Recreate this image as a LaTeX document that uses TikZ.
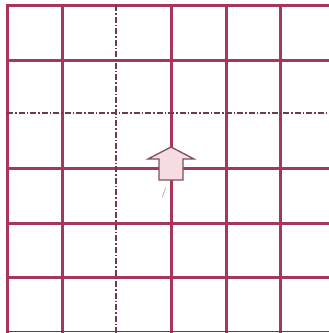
\documentclass[tikz,border=0pt]{standalone}
\usepackage{tikz}
\usetikzlibrary{positioning}
\definecolor{gridred}{HTML}{A8355A}
\definecolor{axisink}{HTML}{6E3B4C}
\definecolor{arrowfill}{HTML}{F7DDE2}

\begin{document}
\begin{tikzpicture}[
  x=1pt, y=-1pt,
  gridline/.style={draw=gridred, line width=3pt},
  axisline/.style={draw=axisink, line width=1.1pt, dash pattern=on 6pt off 2pt on 1.5pt off 2pt},
  uparrow/.style={draw=axisink!90, fill=arrowfill, line width=1.3pt, line join=miter},
]
\useasboundingbox (0,0) rectangle (329,333);
\fill[white] (0,0) rectangle (329,333);
% solid grid
\foreach \gx in {7,62,171,226,280}
  \draw[gridline] (\gx,5) -- (\gx,333);
\foreach \gy in {5,60,168,223,277}
  \draw[gridline] (5.5,\gy) -- (329,\gy);
\draw[draw=axisink, line width=1.4pt] (6,331.5) -- (329,331.5);
% centre lines
\draw[axisline] (116,5) -- (116,333);
\draw[axisline] (7,113) -- (329,113);
% arrow
\coordinate (arrowtip) at (171,147);
\draw[uparrow] (arrowtip) -- ++(23,12) -- ++(-11,0) -- ++(0,21) -- ++(-24,0)
  -- ++(0,-21) -- ++(-11,0) -- cycle;
\node[font=\normalsize, text=gridred, inner sep=0pt] (mark) at (164,193) {/};
\end{tikzpicture}
\end{document}
